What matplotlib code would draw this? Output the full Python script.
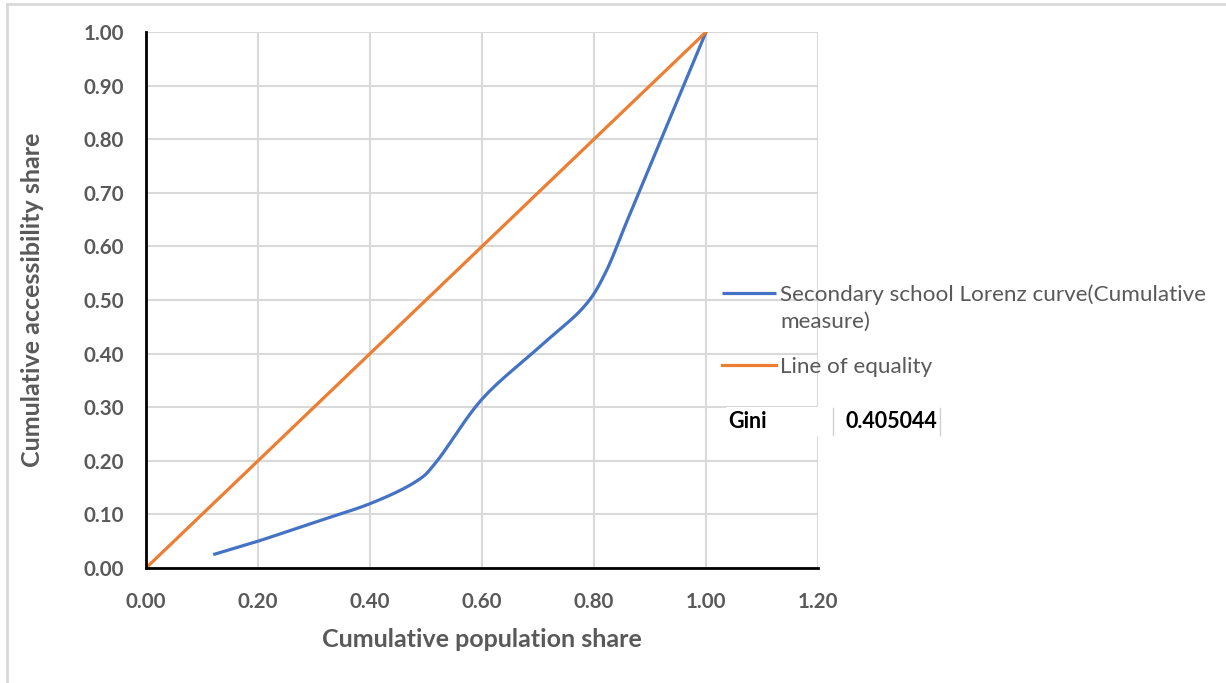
import numpy as np
import matplotlib
matplotlib.use("Agg")
import matplotlib.pyplot as plt
from matplotlib.patches import Rectangle
from matplotlib.lines import Line2D

# ---- data ----
lorenz_x = [0.12, 0.20, 0.30, 0.40, 0.48, 0.52, 0.60, 0.70, 0.78, 0.82, 0.86, 0.92, 1.00]
lorenz_y = [0.025, 0.05, 0.085, 0.12, 0.16, 0.20, 0.315, 0.41, 0.485, 0.55, 0.65, 0.80, 1.00]
equality_x = [0.0, 1.0]
equality_y = [0.0, 1.0]
x_ticks = [0.0, 0.2, 0.4, 0.6, 0.8, 1.0, 1.2]
y_ticks = [0.0, 0.1, 0.2, 0.3, 0.4, 0.5, 0.6, 0.7, 0.8, 0.9, 1.0]
gini_label = "Gini"
gini_value = "0.405044"
series_labels = ["Secondary school Lorenz curve(Cumulative\nmeasure)", "Line of equality"]


def catmull_rom(xs, ys, n=30):
    # smoothed rendering of the line through the data points (like Excel's smoothed line)
    P = np.column_stack([xs, ys])
    P = np.vstack([P[0], P, P[-1]])
    out = []
    for i in range(1, len(P) - 2):
        p0, p1, p2, p3 = P[i - 1], P[i], P[i + 1], P[i + 2]
        t = np.linspace(0, 1, n, endpoint=False)[:, None]
        seg = 0.5 * ((2 * p1) + (-p0 + p2) * t + (2 * p0 - 5 * p1 + 4 * p2 - p3) * t**2
                     + (-p0 + 3 * p1 - 3 * p2 + p3) * t**3)
        out.append(seg)
    out.append(P[-2][None, :])
    out = np.vstack(out)
    return out[:, 0], out[:, 1]


W, H = 1226, 683
fig = plt.figure(figsize=(W / 100, H / 100), dpi=100)
plt.rcParams['font.family'] = ['Lato', 'DejaVu Sans']

def fx(px):
    return px / W

def fy(py):
    return 1 - py / H

ax = fig.add_axes([fx(146), fy(568), fx(818) - fx(146), fy(32) - fy(568)])

grey = "#595959"
blue = "#4472C4"
orange = "#ED7D31"
grid = "#D9D9D9"

sx, sy = catmull_rom(lorenz_x, lorenz_y)
ax.plot(sx, sy, color=blue, lw=2.3, label=series_labels[0], solid_capstyle='butt', zorder=3)
ax.plot(equality_x, equality_y, color=orange, lw=2.3, label=series_labels[1], zorder=3)

ax.set_xlim(0, 1.2)
ax.set_ylim(0, 1.0)
ax.set_xticks(x_ticks)
ax.set_yticks(y_ticks)
ax.set_xticklabels([f"{v:.2f}" for v in x_ticks])
ax.set_yticklabels([f"{v:.2f}" for v in y_ticks])
ax.tick_params(length=0, labelsize=14.8, labelcolor=grey)
ax.tick_params(axis='y', pad=16)
ax.tick_params(axis='x', pad=17)
for lab in ax.get_xticklabels() + ax.get_yticklabels():
    lab.set_fontweight('bold')
ax.grid(True, color=grid, lw=1.5, zorder=0)
ax.set_axisbelow(True)
for s in ['top', 'right']:
    ax.spines[s].set_visible(False)
for s in ['left', 'bottom']:
    ax.spines[s].set_color('black')
    ax.spines[s].set_linewidth(2)
    ax.spines[s].set_zorder(4)

ax.set_xlabel("Cumulative population share", fontsize=18, fontweight='bold', color=grey, labelpad=12)
ax.set_ylabel("Cumulative accessibility share", fontsize=18, fontweight='bold', color=grey, labelpad=28)

leg = ax.legend(loc='upper left', bbox_to_anchor=(fx(722), fy(284)), bbox_transform=fig.transFigure,
                frameon=False, fontsize=16.2, handlelength=2.4, handletextpad=0.18,
                borderpad=0, borderaxespad=0, labelspacing=1.1, handleheight=1.0)
for t in leg.get_texts():
    t.set_color(grey)
    t.set_linespacing(1.45)
for col in leg._legend_handle_box.get_children():
    for item in col.get_children():
        item.align = "top"

# Gini cell
fig.add_artist(Rectangle((fx(726), fy(436)), fx(948) - fx(726), fy(407.5) - fy(436),
                         transform=fig.transFigure, facecolor='white', edgecolor='none', zorder=5))
for xp in [833, 940]:
    fig.add_artist(Line2D([fx(xp), fx(xp)], [fy(408), fy(435)], transform=fig.transFigure,
                          color="#D0D0D0", lw=1, zorder=6))
fig.text(fx(728), fy(421), gini_label, fontsize=15.5, fontweight='bold', color='black', va='center', ha='left', zorder=7)
fig.text(fx(937), fy(421), gini_value, fontsize=15.5, fontweight='bold', color='black', va='center', ha='right', zorder=7)

# outer frame (top and left edges visible)
fig.add_artist(Line2D([fx(7), 1], [fy(4), fy(4)], transform=fig.transFigure, color=grid, lw=2))
fig.add_artist(Line2D([fx(7), fx(7)], [fy(4), 0], transform=fig.transFigure, color=grid, lw=2))

fig.savefig("out.png", dpi=100)
